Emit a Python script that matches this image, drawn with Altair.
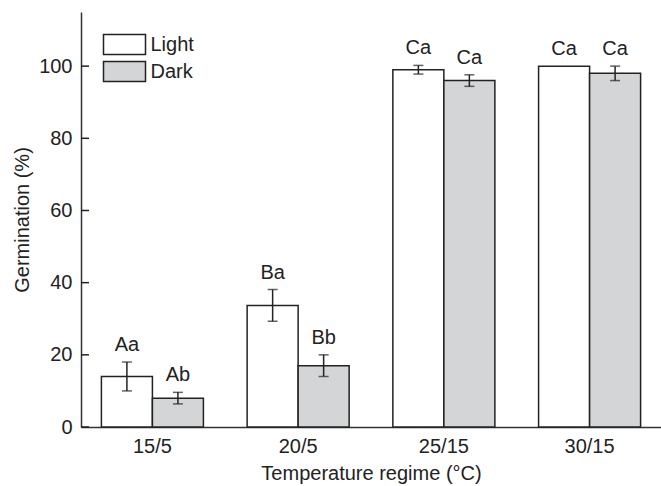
import altair as alt
import pandas as pd

temps = ["15/5", "20/5", "25/15", "30/15"]
light_mean = [14.0, 33.7, 99.0, 100.0]
light_err = [4.0, 4.4, 1.2, 0.0]
dark_mean = [8.0, 17.0, 96.0, 98.0]
dark_err = [1.6, 3.0, 1.6, 2.0]
light_letters = ["Aa", "Ba", "Ca", "Ca"]
dark_letters = ["Ab", "Bb", "Ca", "Ca"]
conditions = ["Light", "Dark"]
y_ticks = [0, 20, 40, 60, 80, 100]

rows = []
for i, t in enumerate(temps):
    rows.append(dict(temp=t, cond="Light", mean=light_mean[i], err=light_err[i], letter=light_letters[i]))
    rows.append(dict(temp=t, cond="Dark", mean=dark_mean[i], err=dark_err[i], letter=dark_letters[i]))
df = pd.DataFrame(rows)
df["lo"] = df["mean"] - df["err"]
df["hi"] = df["mean"] + df["err"]
ticks_df = pd.DataFrame({"v": y_ticks})

FONT = "Liberation Sans"
INK = "#222222"

axis_style = dict(labelFont=FONT, titleFont=FONT, labelFontSize=20, titleFontSize=20,
                  labelColor=INK, titleColor=INK, titleFontWeight="normal",
                  domainColor="#333333", domainWidth=1.5, grid=False, ticks=False)

x_enc = alt.X("temp:N", sort=temps,
              scale=alt.Scale(paddingInner=0.3, paddingOuter=0.14),
              axis=alt.Axis(title="Temperature regime (°C)", labelAngle=0,
                            labelPadding=9, titlePadding=7, **axis_style))
xo_enc = alt.XOffset("cond:N", sort=conditions, scale=alt.Scale(paddingInner=0, paddingOuter=0))
y_scale = alt.Scale(domain=[0, 115], nice=False)

bars = alt.Chart(df).mark_bar(stroke=INK, strokeWidth=1.5).encode(
    x=x_enc,
    xOffset=xo_enc,
    y=alt.Y("mean:Q", scale=y_scale,
            axis=alt.Axis(title="Germination (%)", values=y_ticks,
                          labelPadding=9, titlePadding=6, **axis_style)),
    fill=alt.Fill("cond:N", sort=conditions,
                  scale=alt.Scale(domain=conditions, range=["#ffffff", "#d4d5d7"]),
                  legend=alt.Legend(title=None, orient="none", legendX=32, legendY=21,
                                    symbolType="M-2,-0.952H2V0.952H-2Z", symbolSize=441,
                                    symbolStrokeColor=INK, symbolStrokeWidth=1.5,
                                    labelFontSize=20, labelFont=FONT, labelColor=INK,
                                    labelOffset=14.5, rowPadding=0, padding=0)),
)

err_df = df[df["err"] > 0]
rules = alt.Chart(err_df).mark_rule(color=INK, strokeWidth=1.5).encode(
    x=alt.X("temp:N", sort=temps), xOffset=xo_enc,
    y=alt.Y("lo:Q", scale=y_scale), y2="hi:Q",
)
caps_lo = alt.Chart(err_df).mark_tick(color=INK, size=10, thickness=1.5).encode(
    x=alt.X("temp:N", sort=temps), xOffset=xo_enc,
    y=alt.Y("lo:Q", scale=y_scale),
)
caps_hi = alt.Chart(err_df).mark_tick(color=INK, size=10, thickness=1.5).encode(
    x=alt.X("temp:N", sort=temps), xOffset=xo_enc,
    y=alt.Y("hi:Q", scale=y_scale),
)
labels = alt.Chart(df).mark_text(font=FONT, fontSize=20, color=INK, baseline="alphabetic", dy=-11).encode(
    x=alt.X("temp:N", sort=temps), xOffset=xo_enc,
    y=alt.Y("hi:Q", scale=y_scale),
    text="letter:N",
)
yticks = alt.Chart(ticks_df).mark_rule(color=INK, strokeWidth=1.5).encode(
    y=alt.Y("v:Q", scale=y_scale), x=alt.value(0), x2=alt.value(8),
)

chart = alt.layer(bars, rules, caps_lo, caps_hi, labels, yticks).properties(
    width=580, height=415,
    autosize=alt.AutoSizeParams(type="none"),
    padding={"left": 81, "top": 12, "right": 0, "bottom": 59},
    background="white",
).configure_view(stroke=None)

chart.save("out.html", embed_options={"renderer": "svg", "actions": False})
